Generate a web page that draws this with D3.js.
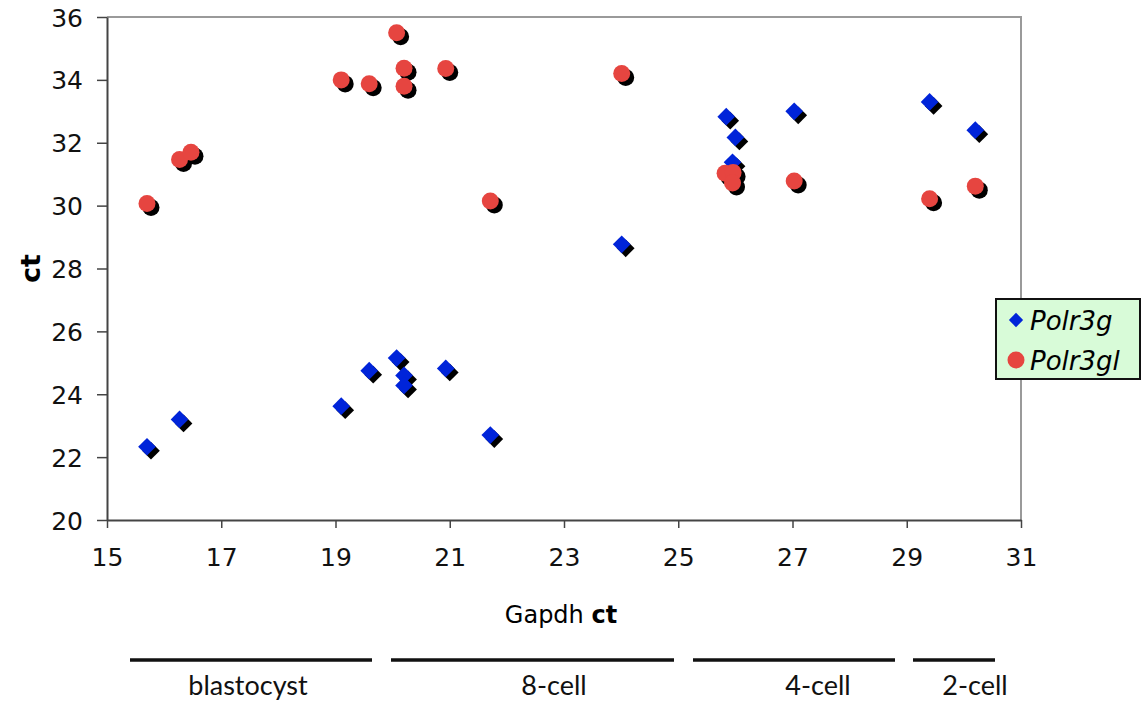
<!DOCTYPE html>
<html>
<head>
<meta charset="utf-8">
<script src="https://cdn.jsdelivr.net/npm/d3@7"></script>
<style>
  body { margin: 0; background: #fff; }
  svg { display: block; }
</style>
</head>
<body>
<div id="chart"></div>
<script>
// Gapdh ct (x) for each sample, per series
const polr3gX = [15.70, 16.27, 19.10, 19.59, 20.07, 20.20, 20.20, 20.93, 21.71, 24.01, 25.84, 26.00, 25.95, 27.03, 29.40, 30.20];
const polr3gY = [22.33, 23.20, 23.62, 24.75, 25.15, 24.60, 24.28, 24.82, 22.70, 28.77, 32.83, 32.17, 31.38, 33.00, 33.30, 32.40];

const polr3glX = [15.70, 16.27, 16.47, 19.10, 19.59, 20.07, 20.20, 20.20, 20.93, 21.71, 24.01, 25.82, 25.96, 25.95, 27.03, 29.40, 30.20];
const polr3glY = [30.07, 31.47, 31.70, 34.00, 33.88, 35.50, 34.37, 33.80, 34.36, 30.15, 34.20, 31.03, 31.05, 30.72, 30.78, 30.22, 30.62];

const xTicks = [15, 17, 19, 21, 23, 25, 27, 29, 31];
const yTicks = [20, 22, 24, 26, 28, 30, 32, 34, 36];

const seriesNames = ['Polr3g', 'Polr3gl'];
const stageLabels = ['blastocyst', '8-cell', '4-cell', '2-cell'];

const width = 1143, height = 703;
const margin = { top: 17, right: 122, bottom: 183, left: 107 };
const innerW = width - margin.left - margin.right;
const innerH = height - margin.top - margin.bottom;

const blue = '#0024d9';
const red = '#e64540';

const svg = d3.select('#chart').append('svg')
    .attr('width', width)
    .attr('height', height);

const chart = svg.append('g')
    .attr('transform', `translate(${margin.left},${margin.top})`);

const x = d3.scaleLinear().domain([15, 31]).range([0, innerW]);
const y = d3.scaleLinear().domain([20, 36]).range([innerH, 0]);

// plot frame (top and right are light grey)
chart.append('path')
    .attr('d', `M0,0H${innerW}V${innerH}`)
    .attr('fill', 'none')
    .attr('stroke', '#9a9a9a')
    .attr('stroke-width', 2);

// axes
const xAxis = chart.append('g')
    .attr('transform', `translate(0,${innerH})`)
    .call(d3.axisBottom(x).tickValues(xTicks).tickSize(8).tickSizeOuter(0).tickPadding(14));

const yAxis = chart.append('g')
    .call(d3.axisLeft(y).tickValues(yTicks).tickSize(10).tickSizeOuter(0).tickPadding(14));

[xAxis, yAxis].forEach(g => {
    g.select('.domain').attr('stroke', '#444').attr('stroke-width', 2);
    g.selectAll('.tick line').attr('stroke', '#444').attr('stroke-width', 1.5);
    g.selectAll('text')
        .attr('fill', '#111')
        .style('font-family', 'DejaVu Sans, Verdana, sans-serif')
        .style('font-size', '25px');
});
yAxis.selectAll('text').attr('dy', '0.36em');
xAxis.selectAll('text').attr('dy', '0.95em');

// markers: a black shadow under each coloured mark
const diamond = d3.symbol().type(d3.symbolDiamond2).size(200);
const sh = 4;

const blueData = polr3gX.map((v, i) => ({ x: v, y: polr3gY[i] }));
const redData = polr3glX.map((v, i) => ({ x: v, y: polr3glY[i] }));

function drawDiamonds(data, fill, off) {
    chart.append('g').selectAll('path')
        .data(data)
        .enter().append('path')
        .attr('d', diamond)
        .attr('transform', d => `translate(${x(d.x) + off},${y(d.y) + off}) rotate(0)`)
        .attr('fill', fill);
}

function drawCircles(data, fill, off) {
    chart.append('g').selectAll('circle')
        .data(data)
        .enter().append('circle')
        .attr('cx', d => x(d.x) + off)
        .attr('cy', d => y(d.y) + off)
        .attr('r', 8.5)
        .attr('fill', fill);
}

drawDiamonds(blueData, '#000', sh);
drawDiamonds(blueData, blue, 0);
drawCircles(redData, '#000', sh);
drawCircles(redData, red, 0);

// y axis title
svg.append('text')
    .attr('transform', `translate(40,${margin.top + innerH / 2}) rotate(-90)`)
    .attr('text-anchor', 'middle')
    .style('font-family', 'DejaVu Sans, Verdana, sans-serif')
    .style('font-size', '27px')
    .style('font-weight', 'bold')
    .text('ct');

// x axis title
const xt = svg.append('text')
    .attr('x', 561)
    .attr('y', 623)
    .attr('text-anchor', 'middle')
    .style('font-family', 'DejaVu Sans, Verdana, sans-serif')
    .style('font-size', '24px');
xt.append('tspan').text('Gapdh ');
xt.append('tspan').style('font-weight', 'bold').text('ct');

// legend
const legend = svg.append('g').attr('transform', 'translate(996,299)');
legend.append('rect')
    .attr('width', 144)
    .attr('height', 80)
    .attr('fill', '#d8fbd8')
    .attr('stroke', '#111')
    .attr('stroke-width', 2);

legend.append('path')
    .attr('d', d3.symbol().type(d3.symbolDiamond2).size(130))
    .attr('transform', 'translate(20,21)')
    .attr('fill', blue);
legend.append('circle')
    .attr('cx', 20).attr('cy', 61).attr('r', 8.5)
    .attr('fill', red);

legend.selectAll('text.lbl')
    .data(seriesNames)
    .enter().append('text')
    .attr('class', 'lbl')
    .attr('x', 34)
    .attr('y', (d, i) => 31 + i * 40)
    .style('font-family', 'DejaVu Sans, Verdana, sans-serif')
    .style('font-size', '26px')
    .style('font-style', 'italic')
    .text(d => d);

// developmental stage brackets under the axis
const stageLines = [[130, 372], [391, 674], [693, 895], [913, 995]];
const stageLabelX = [248, 554, 818, 975];

svg.append('g').selectAll('line')
    .data(stageLines)
    .enter().append('line')
    .attr('x1', d => d[0])
    .attr('x2', d => d[1])
    .attr('y1', 660)
    .attr('y2', 660)
    .attr('stroke', '#111')
    .attr('stroke-width', 3.5);

svg.append('g').selectAll('text')
    .data(stageLabels)
    .enter().append('text')
    .attr('x', (d, i) => stageLabelX[i])
    .attr('y', 695)
    .attr('text-anchor', 'middle')
    .style('font-family', 'Lato, Open Sans, sans-serif')
    .style('font-size', '27px')
    .attr('fill', '#111')
    .text(d => d);
</script>
</body>
</html>
